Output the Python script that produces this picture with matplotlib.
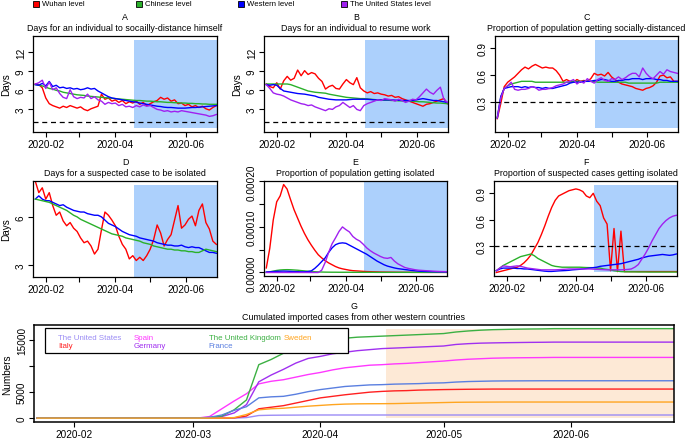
import pandas as pd
import matplotlib
matplotlib.use('Agg')
import matplotlib.pyplot as plt
import matplotlib.dates as mdates
from matplotlib.patches import Rectangle
from matplotlib.ticker import FuncFormatter

plt.rcParams['font.family'] = ['Liberation Sans', 'DejaVu Sans']

# values read every 3 days, 2020-01-23 .. 2020-06-27
dates = pd.date_range('2020-01-23', periods=53, freq='3D')
policy_start = pd.Timestamp('2020-04-17')

level_names = ['Wuhan level', 'Chinese level', 'Western level', 'The United States level']
level_colors = ['#ff0000', '#2ab02a', '#0000ff', '#a020f0']

# A: days for an individual to socially-distance himself
A_red = [7.0, 6.9, 6.4, 4.8, 3.9, 3.6, 3.4, 3.2, 3.5, 3.3,
         3.6, 3.4, 3.2, 3.4, 3.0, 2.8, 3.1, 3.3, 3.5, 5.4,
         4.6, 4.8, 4.3, 4.5, 4.1, 4.4, 3.9, 4.2, 4.0, 4.3,
         3.8, 4.1, 3.6, 3.9, 4.2, 4.4, 4.9, 4.6, 4.8, 4.3,
         4.5, 3.9, 4.0, 3.6, 3.8, 3.4, 3.6, 3.3, 3.5, 3.1,
         2.9, 3.3, 3.6]
A_green = [6.9, 6.8, 6.7, 6.5, 6.3, 6.2, 6.0, 5.9, 5.7, 5.6,
           5.5, 5.4, 5.3, 5.25, 5.2, 5.1, 5.05, 5.0, 4.95, 4.9,
           4.85, 4.8, 4.75, 4.7, 4.65, 4.6, 4.55, 4.5, 4.45, 4.4,
           4.4, 4.35, 4.3, 4.3, 4.25, 4.2, 4.2, 4.15, 4.1, 4.1,
           4.05, 4.05, 4.0, 4.0, 3.95, 3.95, 3.9, 3.9, 3.85, 3.85,
           3.8, 3.8, 3.8]
A_blue = [6.9, 6.8, 7.1, 6.7, 7.4, 6.6, 6.8, 6.4, 6.5, 6.3,
          6.4, 6.2, 6.3, 6.1, 6.2, 6.4, 6.2, 6.3, 5.9, 5.6,
          5.3, 5.0, 4.8, 4.7, 4.6, 4.5, 4.4, 4.3, 4.2, 4.15,
          4.0, 3.9, 3.8, 3.7, 3.6, 3.5, 3.45, 3.35, 3.3, 3.3,
          3.25, 3.2, 3.2, 3.2, 3.25, 3.3, 3.3, 3.35, 3.4, 3.45,
          3.5, 3.55, 3.6]
A_purple = [7.0, 7.2, 7.6, 6.3, 7.3, 6.1, 6.4, 5.5, 4.9, 4.7,
            6.1, 5.0, 4.7, 4.9, 4.8, 5.4, 4.7, 5.0, 4.5, 4.3,
            3.8, 4.1, 3.9, 4.0, 3.6, 3.8, 3.4, 3.5, 3.3, 3.6,
            3.4, 3.7, 3.5, 3.6, 3.3, 3.0, 2.9, 2.7, 2.8, 2.6,
            2.7, 2.6, 2.8, 2.7, 2.6, 2.5, 2.4, 2.3, 2.2, 2.1,
            1.9, 2.0, 2.2]

# B: days for an individual to resume work
B_red = [7.0, 6.6, 6.4, 7.2, 6.2, 7.5, 8.2, 7.6, 7.9, 9.2,
         8.3, 9.1, 8.5, 8.8, 8.6, 7.9, 7.4, 6.2, 6.6, 6.8,
         6.3, 6.2, 7.0, 7.7, 7.2, 6.9, 8.0, 6.4, 5.9, 5.6,
         5.8, 5.5, 5.6, 5.4, 5.3, 5.1, 5.2, 4.9, 5.0, 4.7,
         4.5, 4.3, 4.1, 3.9, 3.7, 3.5, 3.8, 3.9, 4.1, 4.3,
         4.5, 4.7, 3.9]
B_green = [7.0, 7.0, 7.0, 7.0, 7.0, 7.0, 7.0, 6.9, 6.7, 6.5,
           6.3, 6.1, 5.9, 5.8, 5.7, 5.65, 5.6, 5.55, 5.4, 5.3,
           5.2, 5.1, 5.0, 4.9, 4.85, 4.8, 4.75, 4.7, 4.7, 4.65,
           4.6, 4.55, 4.5, 4.5, 4.45, 4.45, 4.4, 4.4, 4.35, 4.35,
           4.3, 4.3, 4.3, 4.25, 4.2, 4.2, 4.15, 4.1, 4.05, 4.0,
           4.0, 3.95, 3.9]
B_blue = [6.9, 6.8, 6.9, 6.8, 6.3, 5.9, 5.8, 5.7, 5.6, 5.5,
          5.45, 5.4, 5.3, 5.2, 5.1, 4.9, 4.8, 4.7, 4.6, 4.55,
          4.5, 4.5, 4.5, 4.5, 4.55, 4.6, 4.6, 4.6, 4.6, 4.6,
          4.55, 4.5, 4.5, 4.5, 4.5, 4.5, 4.5, 4.45, 4.45, 4.4,
          4.4, 4.4, 4.4, 4.5, 4.6, 4.7, 4.6, 4.5, 4.4, 4.4,
          4.3, 4.2, 4.1]
B_purple = [6.9, 6.3, 5.6, 5.4, 5.3, 5.1, 4.8, 4.5, 4.3, 4.1,
            3.9, 3.8, 3.6, 3.7, 3.4, 3.2, 3.0, 2.8, 3.1, 3.0,
            3.4, 3.6, 4.1, 3.7, 3.3, 3.6, 3.0, 2.8, 3.6, 3.9,
            4.1, 4.3, 4.5, 4.4, 4.7, 4.6, 4.5, 4.3, 4.6, 4.4,
            4.1, 4.3, 4.6, 4.5, 5.0, 5.6, 6.2, 5.7, 5.4, 6.0,
            6.5, 4.6, 4.1]

# C: proportion of population getting socially-distanced
C_red = [0.11, 0.28, 0.47, 0.52, 0.55, 0.58, 0.62, 0.66, 0.69, 0.67,
         0.70, 0.72, 0.70, 0.68, 0.69, 0.68, 0.68, 0.65, 0.60, 0.53,
         0.55, 0.53, 0.52, 0.55, 0.53, 0.54, 0.53, 0.56, 0.62, 0.60,
         0.61, 0.59, 0.63, 0.58, 0.55, 0.52, 0.50, 0.49, 0.48, 0.47,
         0.45, 0.44, 0.43, 0.45, 0.46, 0.48, 0.52, 0.59, 0.60, 0.57,
         0.58, 0.53, 0.53]
C_green = [0.12, 0.35, 0.45, 0.48, 0.50, 0.51, 0.52, 0.53, 0.53, 0.53,
           0.53, 0.52, 0.52, 0.52, 0.52, 0.52, 0.52, 0.52, 0.52, 0.52,
           0.52, 0.52, 0.53, 0.53, 0.53, 0.53, 0.53, 0.53, 0.53, 0.52,
           0.52, 0.52, 0.52, 0.52, 0.52, 0.52, 0.52, 0.52, 0.51, 0.51,
           0.51, 0.51, 0.51, 0.51, 0.51, 0.51, 0.51, 0.52, 0.52, 0.52,
           0.52, 0.52, 0.52]
C_blue = [0.12, 0.36, 0.45, 0.46, 0.47, 0.47, 0.47, 0.46, 0.47, 0.46,
          0.47, 0.46, 0.46, 0.45, 0.46, 0.45, 0.45, 0.46, 0.47, 0.48,
          0.49, 0.51, 0.52, 0.52, 0.52, 0.53, 0.53, 0.53, 0.54, 0.54,
          0.55, 0.55, 0.54, 0.53, 0.53, 0.54, 0.54, 0.55, 0.55, 0.56,
          0.56, 0.56, 0.55, 0.56, 0.56, 0.56, 0.55, 0.55, 0.54, 0.54,
          0.53, 0.53, 0.53]
C_purple = [0.12, 0.34, 0.45, 0.48, 0.52, 0.44, 0.43, 0.44, 0.44, 0.45,
            0.47, 0.46, 0.43, 0.44, 0.44, 0.45, 0.46, 0.48, 0.49, 0.50,
            0.52, 0.53, 0.55, 0.50, 0.53, 0.51, 0.56, 0.53, 0.51, 0.55,
            0.57, 0.54, 0.53, 0.56, 0.55, 0.58, 0.55, 0.57, 0.60, 0.62,
            0.62, 0.58, 0.68, 0.62, 0.58, 0.56, 0.60, 0.64, 0.61, 0.66,
            0.64, 0.63, 0.62]

# D: days for a suspected case to be isolated
D_red = [8.2, 7.5, 7.8, 7.1, 7.5, 6.7, 6.1, 6.3, 5.75, 5.45,
         5.65, 5.3, 5.1, 4.7, 4.4, 4.5, 4.2, 3.7, 4.0, 5.2,
         6.3, 6.1, 5.8, 5.45, 4.8, 4.3, 4.0, 3.4, 3.6, 3.3,
         3.5, 3.3, 3.6, 4.0, 4.6, 5.5, 5.0, 4.2, 4.6, 4.9,
         5.8, 6.7, 5.3, 5.5, 5.85, 6.05, 5.45, 6.4, 6.8, 5.65,
         5.25, 4.5, 4.3]
D_green = [7.1, 7.05, 7.0, 6.95, 6.9, 6.8, 6.7, 6.6, 6.5, 6.4,
           6.25, 6.1, 6.0, 5.85, 5.75, 5.65, 5.55, 5.45, 5.35, 5.25,
           5.15, 5.05, 4.95, 4.9, 4.85, 4.8, 4.7, 4.65, 4.6, 4.55,
           4.5, 4.4, 4.35, 4.3, 4.2, 4.15, 4.1, 4.05, 4.0, 4.0,
           3.95, 3.95, 3.9, 3.9, 3.85, 3.85, 3.8, 3.8, 3.9, 4.0,
           3.95, 3.9, 3.85]
D_blue = [7.1, 7.3, 7.1, 7.0, 7.0, 6.9, 6.8, 6.7, 6.75, 6.6,
          6.5, 6.4, 6.35, 6.3, 6.3, 6.2, 6.15, 6.1, 6.1, 6.0,
          5.8, 5.6, 5.5, 5.4, 5.25, 5.1, 5.0, 4.9, 4.85, 4.8,
          4.7, 4.65, 4.6, 4.55, 4.5, 4.4, 4.35, 4.3, 4.25, 4.25,
          4.2, 4.2, 4.25, 4.15, 4.1, 4.15, 4.1, 4.1, 4.0, 3.9,
          3.8, 3.8, 3.75]

# E: proportion of population getting isolated (units of 1e-5)
E_red = [1.0, 5.3, 11.5, 15.5, 16.8, 19.3, 18.3, 16.0, 13.8, 12.0,
         10.2, 8.6, 7.2, 6.0, 4.9, 3.9, 3.2, 2.6, 2.1, 1.7,
         1.3, 1.0, 0.8, 0.65, 0.5, 0.4, 0.35, 0.3, 0.25, 0.2,
         0.18, 0.15, 0.13, 0.1, 0.09, 0.08, 0.07, 0.06, 0.05, 0.05,
         0.04, 0.04, 0.03, 0.03, 0.03, 0.02, 0.02, 0.02, 0.02, 0.02,
         0.02, 0.02, 0.02]
E_green = [0.05, 0.15, 0.3, 0.45, 0.55, 0.6, 0.62, 0.6, 0.55, 0.5,
           0.42, 0.35, 0.28, 0.22, 0.17, 0.13, 0.1, 0.08, 0.07, 0.06,
           0.06, 0.05, 0.05, 0.05, 0.05, 0.04, 0.04, 0.04, 0.04, 0.04,
           0.04, 0.04, 0.03, 0.03, 0.03, 0.03, 0.03, 0.03, 0.03, 0.03,
           0.03, 0.03, 0.03, 0.03, 0.03, 0.03, 0.03, 0.03, 0.03, 0.03,
           0.03, 0.03, 0.03]
E_blue = [0.1, 0.15, 0.2, 0.25, 0.28, 0.3, 0.28, 0.25, 0.2, 0.18,
          0.15, 0.15, 0.2, 0.35, 0.9, 1.6, 2.4, 3.2, 4.4, 5.4,
          6.1, 6.4, 6.5, 6.4, 6.0, 5.6, 5.2, 4.8, 4.4, 4.0,
          3.5, 3.0, 2.5, 2.1, 1.7, 1.4, 1.2, 1.0, 0.85, 0.75,
          0.65, 0.55, 0.45, 0.38, 0.3, 0.26, 0.22, 0.2, 0.18, 0.16,
          0.15, 0.14, 0.13]
E_purple = [0.0, 0.0, 0.0, 0.0, 0.0, 0.0, 0.0, 0.0, 0.0, 0.0,
            0.0, 0.0, 0.0, 0.0, 0.0, 0.0, 0.5, 2.2, 4.4, 6.3,
            7.6, 9.0, 10.0, 9.4, 8.9, 7.9, 7.3, 6.9, 6.2, 5.4,
            4.8, 4.3, 3.9, 3.5, 3.2, 3.1, 3.3, 2.5, 1.9, 1.5,
            1.1, 0.9, 0.75, 0.6, 0.5, 0.45, 0.4, 0.35, 0.3, 0.26,
            0.22, 0.2, 0.18]

# F: proportion of suspected cases getting isolated
F_red = [0.0, 0.01, 0.02, 0.03, 0.04, 0.05, 0.06, 0.08, 0.11, 0.15,
         0.2, 0.27, 0.34, 0.43, 0.53, 0.64, 0.74, 0.82, 0.87, 0.89,
         0.91, 0.93, 0.94, 0.95, 0.94, 0.92, 0.87, 0.85, 0.90, 0.81,
         0.76, 0.62, 0.55, 0.02, 0.50, 0.01, 0.47, 0.01, 0.01, 0.01,
         0.01, 0.01, 0.01, 0.01, 0.01, 0.01, 0.01, 0.01, 0.01, 0.01,
         0.01, 0.01, 0.01]
F_green = [0.02, 0.05, 0.08, 0.1, 0.12, 0.14, 0.16, 0.18, 0.19, 0.2,
           0.21, 0.19, 0.16, 0.14, 0.12, 0.1, 0.08, 0.07, 0.065, 0.06,
           0.06, 0.06, 0.06, 0.06, 0.06, 0.058, 0.056, 0.055, 0.055, 0.05,
           0.05, 0.04, 0.035, 0.03, 0.02, 0.015, 0.01, 0.008, 0.008, 0.007,
           0.007, 0.006, 0.006, 0.006, 0.005, 0.005, 0.005, 0.005, 0.005, 0.005,
           0.005, 0.005, 0.005]
F_blue = [0.02, 0.04, 0.05, 0.05, 0.05, 0.05, 0.045, 0.045, 0.04, 0.04,
          0.035, 0.03, 0.025, 0.02, 0.015, 0.012, 0.012, 0.015, 0.018, 0.02,
          0.022, 0.025, 0.03, 0.033, 0.036, 0.04, 0.045, 0.05, 0.055, 0.06,
          0.07, 0.075, 0.08, 0.085, 0.09, 0.095, 0.1, 0.11, 0.12, 0.13,
          0.14, 0.15, 0.165, 0.175, 0.185, 0.19, 0.195, 0.2, 0.205, 0.2,
          0.195, 0.2, 0.21]
F_purple = [0.02, 0.05, 0.075, 0.07, 0.065, 0.07, 0.075, 0.07, 0.06, 0.05,
            0.045, 0.04, 0.035, 0.03, 0.03, 0.03, 0.03, 0.03, 0.032, 0.035,
            0.037, 0.04, 0.04, 0.04, 0.04, 0.04, 0.04, 0.04, 0.038, 0.036,
            0.034, 0.032, 0.03, 0.03, 0.03, 0.03, 0.03, 0.032, 0.035, 0.04,
            0.06, 0.09, 0.15, 0.21, 0.28, 0.36, 0.43, 0.5, 0.55, 0.59,
            0.62, 0.64, 0.65]

# G: cumulated imported cases from other western countries
country_names = ['The United States', 'Italy', 'Spain', 'Germany',
                 'The United Kingdom', 'France', 'Sweden']
country_colors = ['#9b8cf5', '#ff2020', '#ff38ff', '#a030f0',
                  '#3cb043', '#5a7fe0', '#ffa520']
G_us = [0, 0, 0, 0, 0, 0, 0, 0, 0, 0, 0, 0, 0, 0, 0, 0, 0, 100, 500, 550,
        570, 580, 600, 600, 600, 600, 600, 600, 600, 600, 600, 600, 600, 600, 600, 600, 600, 600, 600, 600,
        600, 600, 600, 600, 600, 600, 600, 600, 600, 600, 600, 600, 600]
G_italy = [0, 0, 0, 0, 0, 0, 0, 0, 0, 0, 0, 0, 0, 0, 0, 0, 50, 400, 1800, 2100,
           2400, 2900, 3400, 3900, 4200, 4500, 4750, 5000, 5150, 5250, 5300, 5400, 5450, 5500, 5530, 5560, 5580, 5600, 5600, 5600,
           5600, 5600, 5600, 5600, 5600, 5600, 5600, 5600, 5600, 5600, 5600, 5600, 5600]
G_spain = [0, 0, 0, 0, 0, 0, 0, 0, 0, 0, 0, 0, 0, 0, 300, 1800, 3300, 4700, 6600, 7100,
           7400, 7900, 8400, 8800, 9300, 9700, 9950, 10200, 10300, 10450, 10550, 10700, 10850, 11000, 11200, 11350, 11450, 11550, 11600, 11630,
           11650, 11670, 11700, 11700, 11700, 11700, 11700, 11700, 11700, 11700, 11700, 11700, 11700]
G_germany = [0, 0, 0, 0, 0, 0, 0, 0, 0, 0, 0, 0, 0, 0, 100, 300, 1000, 2600, 7000, 8300,
             9400, 10600, 11500, 11900, 12400, 12700, 13000, 13200, 13400, 13500, 13600, 13700, 13800, 13900, 14200, 14350, 14450, 14500, 14540, 14570,
             14600, 14620, 14650, 14650, 14650, 14650, 14650, 14650, 14650, 14650, 14650, 14650, 14650]
G_uk = [0, 0, 0, 0, 0, 0, 0, 0, 0, 0, 0, 0, 0, 0, 100, 400, 1600, 3500, 10300, 11300,
        12500, 13300, 14000, 14600, 15100, 15400, 15600, 15700, 15800, 15900, 16000, 16100, 16200, 16300, 16600, 16800, 16950, 17050, 17100, 17150,
        17180, 17200, 17250, 17250, 17250, 17250, 17250, 17250, 17250, 17250, 17250, 17250, 17250]
G_france = [0, 0, 0, 0, 0, 0, 0, 0, 0, 0, 0, 0, 0, 0, 150, 600, 1500, 2200, 3900, 4100,
            4200, 4600, 5100, 5500, 5800, 6100, 6250, 6400, 6450, 6550, 6600, 6650, 6750, 6800, 6950, 7050, 7100, 7150, 7170, 7180,
            7190, 7200, 7200, 7200, 7200, 7200, 7200, 7200, 7200, 7200, 7200, 7200, 7200]
G_sweden = [0, 0, 0, 0, 0, 0, 0, 0, 0, 0, 0, 0, 0, 0, 0, 0, 100, 700, 1600, 1800,
            1900, 2100, 2300, 2450, 2600, 2700, 2750, 2770, 2780, 2800, 2850, 2900, 2950, 3000, 3050, 3070, 3080, 3090, 3100, 3100,
            3100, 3100, 3100, 3100, 3100, 3100, 3100, 3100, 3100, 3100, 3100, 3100, 3100]

W, H = 685, 439
fig = plt.figure(figsize=(W / 100, H / 100), dpi=100)
shade_blue = '#acd0fc'
shade_peach = '#fde9d6'
top_xlim = (pd.Timestamp('2020-01-21'), pd.Timestamp('2020-06-27 14:00'))


def month_fmt(months):
    def f(v, pos):
        d = mdates.num2date(v)
        return d.strftime('%Y-%m') if d.month in months else ''
    return FuncFormatter(f)


def panel(rect, letter, title, series, ylim, yticks, ylabels, shade_top,
          hline=None, ylabel=None, xlim=top_xlim, months=(2, 4, 6),
          shade=shade_blue, scale=1.0):
    l, t, r, b = rect
    ax = fig.add_axes([l / W, 1 - b / H, (r - l) / W, (b - t) / H])
    ax.fill_between([policy_start, xlim[1]], 0, shade_top, color=shade, lw=0, zorder=0)
    for vals, col in series:
        ax.plot(dates, [v * scale for v in vals], color=col, lw=1.0)
    if hline is not None:
        ax.axhline(hline, color='black', lw=0.9, ls=(0, (4, 3)))
    ax.set_xlim(xlim)
    ax.set_ylim(ylim)
    ax.xaxis.set_major_locator(mdates.MonthLocator())
    ax.xaxis.set_major_formatter(month_fmt(months))
    ax.set_yticks(yticks)
    ax.set_yticklabels(ylabels, rotation=90, va='center')
    ax.tick_params(direction='out', length=3.6, width=0.8, labelsize=7.2, pad=1.5)
    for s in ax.spines.values():
        s.set_linewidth(0.9)
    ax.annotate(title, xy=(0.5, 1), xycoords='axes fraction', xytext=(0, 6.2),
                textcoords='offset points', ha='center', va='center', fontsize=6.4)
    ax.annotate(letter, xy=(0.5, 1), xycoords='axes fraction', xytext=(0, 14),
                textcoords='offset points', ha='center', va='center', fontsize=6.4)
    if ylabel:
        ax.set_ylabel(ylabel, fontsize=7.2, va='center')
        ax.yaxis.set_label_coords(-27 / (r - l), 0.5)
    return ax


red, green, blue, purple = level_colors
days_ticks = [3, 6, 9, 12]
days_labels = ['3', '6', '9', '12']
prop_ticks = [0.3, 0.6, 0.9]
prop_labels = ['0.3', '0.6', '0.9']

panel((33, 37, 217, 133), 'A', 'Days for an individual to socailly-distance himself',
      [(A_red, red), (A_green, green), (A_blue, blue), (A_purple, purple)],
      (-0.56, 14.56), days_ticks, days_labels, 14, hline=1, ylabel='Days')
panel((264, 37, 448, 133), 'B', 'Days for an individual to resume work',
      [(B_red, red), (B_green, green), (B_blue, blue), (B_purple, purple)],
      (-0.56, 14.56), days_ticks, days_labels, 14, hline=1, ylabel='Days')
panel((495, 37, 678, 133), 'C', 'Proportion of population getting socially-distanced',
      [(C_red, red), (C_green, green), (C_blue, blue), (C_purple, purple)],
      (-0.04, 1.04), prop_ticks, prop_labels, 1.0, hline=0.3)
panel((33, 182, 217, 278), 'D', 'Days for a suspected case to be isolated',
      [(D_red, red), (D_blue, blue), (D_green, green)],
      (2.28, 8.22), [3, 6], ['3', '6'], 8, ylabel='Days')
panel((264, 182, 447, 277), 'E', 'Proportion of population getting isolated',
      [(E_red, red), (E_green, green), (E_blue, blue), (E_purple, purple)],
      (-0.0000077, 0.0002007), [0, 0.00005, 0.0001, 0.00015, 0.0002],
      ['0.00000', '', '0.00010', '', '0.00020'], 1, scale=1e-5)
panel((494, 182, 677, 277), 'F', 'Proportion of suspected cases getting isolated',
      [(F_red, red), (F_green, green), (F_blue, blue), (F_purple, purple)],
      (-0.04, 1.04), prop_ticks, prop_labels, 1.0, hline=0.3)

g_series = [G_us, G_italy, G_spain, G_germany, G_uk, G_france, G_sweden]
axg = panel((34, 326, 674, 423), 'G', 'Cumulated imported cases from other western countries',
            list(zip(g_series, country_colors)),
            (-750, 17950), [0, 5000, 10000, 15000], ['0', '5000', '', '15000'],
            max(G_uk), ylabel='Numbers',
            xlim=(pd.Timestamp('2020-01-22 06:00'), pd.Timestamp('2020-06-26 03:00')),
            months=(2, 3, 4, 5, 6), shade=shade_peach)
for s in axg.spines.values():
    s.set_linewidth(1.1)

# legend of panel G (R-style: coloured text, equal column widths)
gl, gt, gr, gb = 34, 326, 674, 423
axg.add_patch(Rectangle(((45 - gl) / (gr - gl), (gb - 354) / (gb - gt)), 303 / (gr - gl), 25 / (gb - gt),
                        transform=axg.transAxes, facecolor='white', edgecolor='black', lw=0.9, zorder=5))
col_x = [58, 133.3, 208.6, 284]
row_y = [338.3, 346.7]
for i, (name, col) in enumerate(zip(country_names, country_colors)):
    cx, ry = col_x[i // 2], row_y[i % 2]
    axg.text((cx - gl) / (gr - gl), (gb - ry) / (gb - gt), name, color=col, fontsize=5.7,
             ha='left', va='center', transform=axg.transAxes, zorder=6)

# top legend
leg_x = [33, 136, 238, 341]
for x0, name, col in zip(leg_x, level_names, level_colors):
    fig.patches.append(Rectangle((x0 / W, 1 - 8 / H), 6 / W, 6 / H, transform=fig.transFigure,
                                 facecolor=col, edgecolor='black', lw=0.6))
    fig.text((x0 + 9) / W, 1 - 5 / H, name, fontsize=5.6, va='center', ha='left')

fig.savefig('out.png', dpi=100)
